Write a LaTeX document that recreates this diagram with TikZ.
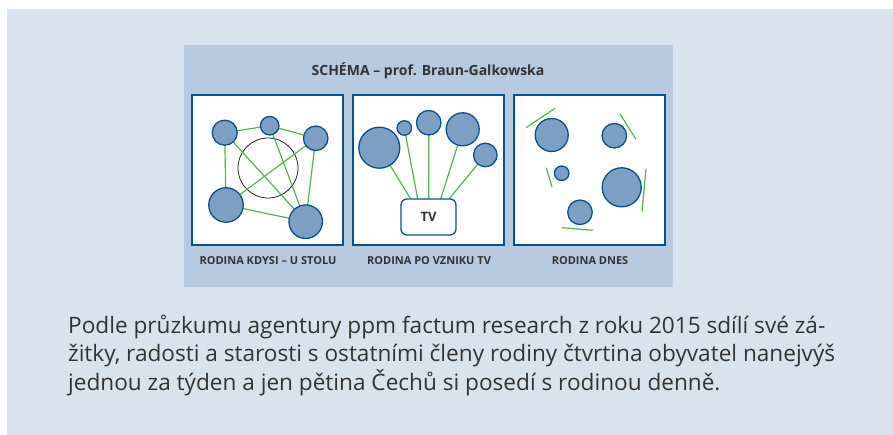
\documentclass[tikz,border=0pt]{standalone}
\usepackage{fontspec}
\setmainfont{Open Sans}
\definecolor{bgout}{HTML}{D9E3EE}
\definecolor{bgpanel}{HTML}{B7CADF}
\definecolor{dblue}{HTML}{0B5189}
\definecolor{cfill}{HTML}{7E9FC4}
\definecolor{lgreen}{HTML}{4DB84A}
\definecolor{txt}{HTML}{333333}
\tikzset{
  famcirc/.style={circle, draw=dblue, fill=cfill, line width=1.3pt, inner sep=0pt},
  frame/.style={draw=dblue, fill=white, line width=2.2pt},
  link/.style={draw=lgreen, line width=1.2pt},
  lbl/.style={font=\fontsize{11}{13}\selectfont\bfseries, text=txt},
}
\begin{document}
\begin{tikzpicture}[x=1pt,y=-1pt]
\useasboundingbox (0,0) rectangle (893,435);
\fill[bgout] (7,9) rectangle (893,435);
\fill[bgpanel] (184,45) rectangle (673,287);
\node[font=\fontsize{14}{16}\selectfont\bfseries, text=txt] (title) at (428,71) {SCHÉMA – prof. Braun-Galkowska};
% frames
\draw[frame] (192,95) rectangle (343,245);
\draw[frame] (353,95) rectangle (504,245);
\draw[frame] (514,95) rectangle (665,245);
\node[lbl] (l1) at (268,261) {RODINA KDYSI – U STOLU};
\node[lbl] (l2) at (429,261) {RODINA PO VZNIKU TV};
\node[lbl] (l3) at (590,261) {RODINA DNES};
% box 1
\node[circle, draw=black!85, line width=0.8pt, minimum size=60pt, inner sep=0pt] (tab) at (268,168) {};
\coordinate (a) at (224.7,132.7);
\coordinate (b) at (269.7,125.7);
\coordinate (c) at (315.7,138.3);
\coordinate (d) at (226,205);
\coordinate (e) at (305.7,221.7);
\draw[link] (a)--(b) (b)--(c) (a)--(d) (a)--(e) (b)--(e) (c)--(d) (c)--(e) (d)--(e);
\node[famcirc, minimum size=25pt] (A) at (a) {};
\node[famcirc, minimum size=18.5pt] (B) at (b) {};
\node[famcirc, minimum size=24.5pt] (C) at (c) {};
\node[famcirc, minimum size=34.5pt] (D) at (d) {};
\node[famcirc, minimum size=33.5pt] (E) at (e) {};
% box 2
\coordinate (f) at (379.3,147.7);
\coordinate (g) at (404.3,128);
\coordinate (h) at (428.7,122.7);
\coordinate (i) at (462.7,129.3);
\coordinate (j) at (485.3,155);
\coordinate (tf) at (410.7,199);
\coordinate (tg) at (417.7,199);
\coordinate (th) at (428.7,199);
\coordinate (ti) at (440.7,199);
\coordinate (tj) at (449,199);
\draw[link] (f)--(tf) (g)--(tg) (h)--(th) (i)--(ti) (j)--(tj);
\node[famcirc, minimum size=41pt] (F) at (f) {};
\node[famcirc, minimum size=14.5pt] (G) at (g) {};
\node[famcirc, minimum size=24.5pt] (H) at (h) {};
\node[famcirc, minimum size=33pt] (I) at (i) {};
\node[famcirc, minimum size=23.5pt] (J) at (j) {};
\node[draw=dblue, fill=white, line width=1.3pt, rounded corners=6pt, minimum width=55pt, minimum height=36pt, font=\fontsize{13}{15}\selectfont\bfseries, text=txt] (tv) at (428.5,217) {TV};
% box 3
\node[famcirc, minimum size=33pt] (K) at (551.7,135) {};
\node[famcirc, minimum size=24.5pt] (L) at (614.3,135.7) {};
\node[famcirc, minimum size=14.5pt] (M) at (561.7,173.3) {};
\node[famcirc, minimum size=39pt] (N) at (621.7,187.3) {};
\node[famcirc, minimum size=24.5pt] (O) at (580,212.3) {};
\coordinate (k1) at (526,127.7); \coordinate (k2) at (555,108.3);
\coordinate (l1a) at (620,114); \coordinate (l2a) at (636,139.3);
\coordinate (m1) at (546.3,167.7); \coordinate (m2) at (552,187);
\coordinate (n1) at (646,169); \coordinate (n2) at (642,211.7);
\coordinate (o1) at (561.7,227.7); \coordinate (o2) at (592.7,230.3);
\draw[link] (k1)--(k2) (l1a)--(l2a) (m1)--(m2) (n1)--(n2) (o1)--(o2);
% bottom text
\node[anchor=base west, align=left, inner sep=0pt, font=\fontsize{22.6}{28.3}\selectfont, text=txt] (body) at (68,390) {Podle průzkumu agentury ppm factum research z roku 2015 sdílí své zá-\\žitky, radosti a starosti s ostatními členy rodiny čtvrtina obyvatel nanejvýš\\jednou za týden a jen pětina Čechů si posedí s rodinou denně.};
\end{tikzpicture}
\end{document}
